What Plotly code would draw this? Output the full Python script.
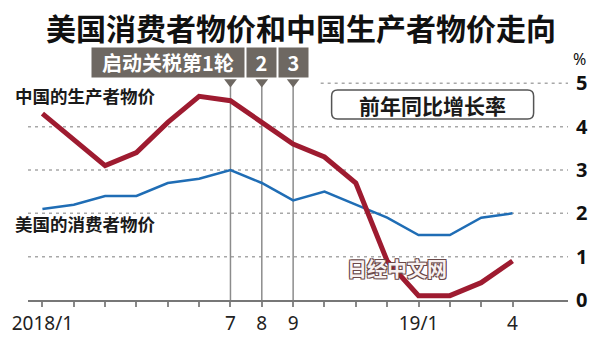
import plotly.graph_objects as go

# Monthly year-on-year rates, Jan 2018 - Apr 2019
months = ["2018/1", "2018/2", "2018/3", "2018/4", "2018/5", "2018/6", "2018/7", "2018/8",
          "2018/9", "2018/10", "2018/11", "2018/12", "2019/1", "2019/2", "2019/3", "2019/4"]
tick_text = ["2018/1", "", "", "", "", "", "7", "8", "9", "", "", "", "19/1", "", "", "4"]
us_cpi = [2.1, 2.2, 2.4, 2.4, 2.7, 2.8, 3.0, 2.7, 2.3, 2.5, 2.2, 1.9, 1.5, 1.5, 1.9, 2.0]
china_ppi = [4.3, 3.7, 3.1, 3.4, 4.1, 4.7, 4.6, 4.1, 3.6, 3.3, 2.7, 0.9, 0.1, 0.1, 0.4, 0.9]
y_ticks = [0, 1, 2, 3, 4, 5]

# Tariff rounds (month index) and their tags
tariff_idx = [6, 7, 8]
tariff_labels = ["启动关税第1轮", "2", "3"]

CJK = "Noto Sans CJK SC"
RED = "#9e1b30"
BLUE = "#1f6db5"
TAG = "#6e6862"

x = list(range(len(months)))

fig = go.Figure()

fig.add_trace(go.Scatter(
    x=x, y=us_cpi, mode="lines", line=dict(color=BLUE, width=2.5),
    hoverinfo="skip", showlegend=False))
fig.add_trace(go.Scatter(
    x=x, y=china_ppi, mode="lines", line=dict(color=RED, width=5),
    hoverinfo="skip", showlegend=False))

# pointers under the tariff tags
fig.add_trace(go.Scatter(
    x=tariff_idx, y=[5.03] * len(tariff_idx), mode="markers",
    marker=dict(symbol="triangle-down", size=11, color=TAG),
    hoverinfo="skip", showlegend=False, cliponaxis=False))

shapes = []
# dotted gridlines
for v in y_ticks[1:]:
    shapes.append(dict(type="line", xref="paper", yref="y",
                       x0=0.542 if v == 5 else 0, x1=1, y0=v, y1=v,
                       line=dict(color="#a8a8a8", width=1.5, dash="3px,4px"),
                       layer="below"))
# tariff round markers
for m in tariff_idx:
    shapes.append(dict(type="line", xref="x", yref="y", x0=m, x1=m, y0=0, y1=5.05,
                       line=dict(color="#8c8c8c", width=1.5), layer="below"))
# rounded frame for the unit note
shapes.append(dict(
    type="path", xref="x", yref="y", xsizemode="pixel", ysizemode="pixel",
    xanchor=12.45, yanchor=4.51,
    path=("M -95,-14.5 L 95,-14.5 Q 101,-14.5 101,-8.5 L 101,8.5 Q 101,14.5 95,14.5 "
          "L -95,14.5 Q -101,14.5 -101,8.5 L -101,-8.5 Q -101,-14.5 -95,-14.5 Z"),
    line=dict(color="#555555", width=1.5), fillcolor="white", layer="above"))

annotations = [
    dict(text="<b>美国消费者物价和中国生产者物价走向</b>", xref="paper", yref="paper",
         x=0.5055, y=1.049, xanchor="center", yanchor="middle", showarrow=False,
         font=dict(family=CJK, size=30, color="#111111")),
    dict(text="<b>中国的生产者物价</b>", xref="paper", yref="y", x=-0.028, y=4.71,
         xanchor="left", yanchor="middle", showarrow=False,
         font=dict(family=CJK, size=17.5, color="#1a1a1a")),
    dict(text="<b>美国的消费者物价</b>", xref="paper", yref="y", x=-0.028, y=1.757,
         xanchor="left", yanchor="middle", showarrow=False,
         font=dict(family=CJK, size=17.5, color="#1a1a1a")),
    dict(text="<b>前年同比增长率</b>", xref="x", yref="y", x=12.45, y=4.51,
         xanchor="center", yanchor="middle", showarrow=False,
         font=dict(family=CJK, size=21, color="#1a1a1a")),
    dict(text="%", xref="paper", yref="y", x=1.0218, y=5.56,
         xanchor="center", yanchor="middle", showarrow=False,
         font=dict(family="Noto Sans", size=16, color="#111111")),
    dict(text="<b>日经中文网</b>", xref="x", yref="y", x=11.32, y=0.73,
         xanchor="center", yanchor="middle", showarrow=False,
         font=dict(family=CJK, size=20, color="#f7f1f1",
                   shadow="1px 1px 0 #6a4848, -1px -1px 0 #6a4848, "
                          "1px -1px 0 #6a4848, -1px 1px 0 #6a4848")),
]
for m, lab in zip(tariff_idx, tariff_labels):
    wide = len(lab) > 1
    annotations.append(dict(
        text="<b>%s</b>" % lab, xref="x", yref="y", x=m, y=5.48,
        xshift=-62 if wide else 0, xanchor="center", yanchor="middle",
        showarrow=False, bgcolor=TAG, borderpad=2,
        width=148 if wide else 25, height=25,
        font=dict(family=CJK, size=20, color="white")))

fig.update_layout(
    width=600, height=348,
    margin=dict(l=22, r=28, t=40, b=45),
    paper_bgcolor="white", plot_bgcolor="white",
    shapes=shapes, annotations=annotations,
    xaxis=dict(range=[-0.46, 16.77], tickmode="array", tickvals=x, ticktext=tick_text,
               ticks="outside", ticklen=5, tickwidth=1.5, tickcolor="#888888",
               showline=True, linecolor="#777777", linewidth=1.5,
               showgrid=False, zeroline=False,
               tickfont=dict(family="Noto Sans", size=19, color="#222222")),
    yaxis=dict(range=[0, 6.0], side="right", tickvals=y_ticks,
               ticktext=[str(v) for v in y_ticks], showgrid=False, zeroline=False,
               showline=False, ticks="", ticklabelstandoff=7,
               tickfont=dict(family="Noto Sans", size=20, color="#111111", weight="bold")),
)

fig.write_html("out.html")
